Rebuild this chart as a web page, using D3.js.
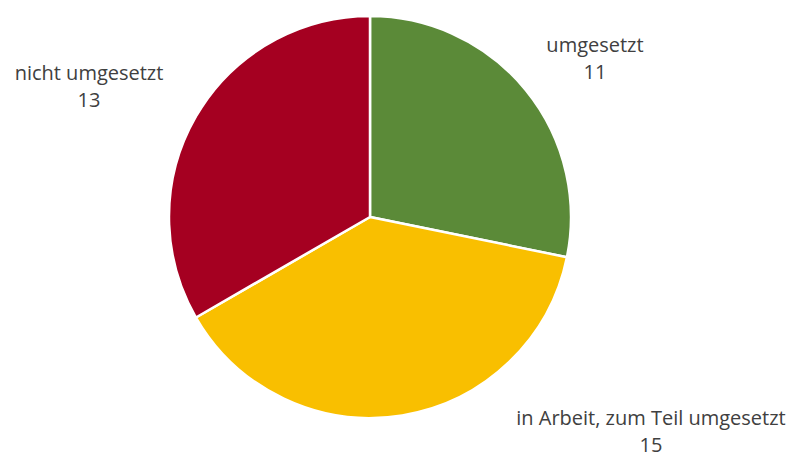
<!DOCTYPE html>
<html>
<head>
<meta charset="utf-8">
<script src="https://cdn.jsdelivr.net/npm/d3@7"></script>
<style>
  html, body { margin: 0; padding: 0; background: #ffffff; }
  svg { display: block; }
  text { font-family: "Open Sans", "Liberation Sans", sans-serif; fill: #404040; }
</style>
</head>
<body>
<svg id="chart" width="795" height="457"></svg>
<script>
// Status of measures
const categories = ["umgesetzt", "in Arbeit, zum Teil umgesetzt", "nicht umgesetzt"];
const values = [11, 15, 13];
const colors = ["#5b8a38", "#f9bf00", "#a50021"];

const width = 795, height = 457;
const cx = 370, cy = 217, radius = 201;

// label anchors (centre of the first line) for each slice
const labelAnchors = [
  { x: 595, y: 52 },
  { x: 651, y: 425 },
  { x: 89, y: 80 }
];

const svg = d3.select("#chart");
const data = categories.map((c, i) => ({ name: c, value: values[i], color: colors[i] }));

const pie = d3.pie().sort(null).value(d => d.value);
const arc = d3.arc().innerRadius(0).outerRadius(radius);

const g = svg.append("g").attr("transform", `translate(${cx},${cy})`);
g.selectAll("path")
  .data(pie(data))
  .join("path")
  .attr("d", arc)
  .attr("fill", d => d.data.color)
  .attr("stroke", "#ffffff")
  .attr("stroke-width", 2.5)
  .attr("stroke-linejoin", "round");

const labels = svg.selectAll("text.label")
  .data(data)
  .join("text")
  .attr("class", "label")
  .attr("text-anchor", "middle")
  .attr("font-size", 20)
  .attr("x", (d, i) => labelAnchors[i].x)
  .attr("y", (d, i) => labelAnchors[i].y);

labels.append("tspan").text(d => d.name);
labels.append("tspan")
  .attr("x", (d, i) => labelAnchors[i].x)
  .attr("dy", 27)
  .text(d => d.value);
</script>
</body>
</html>
